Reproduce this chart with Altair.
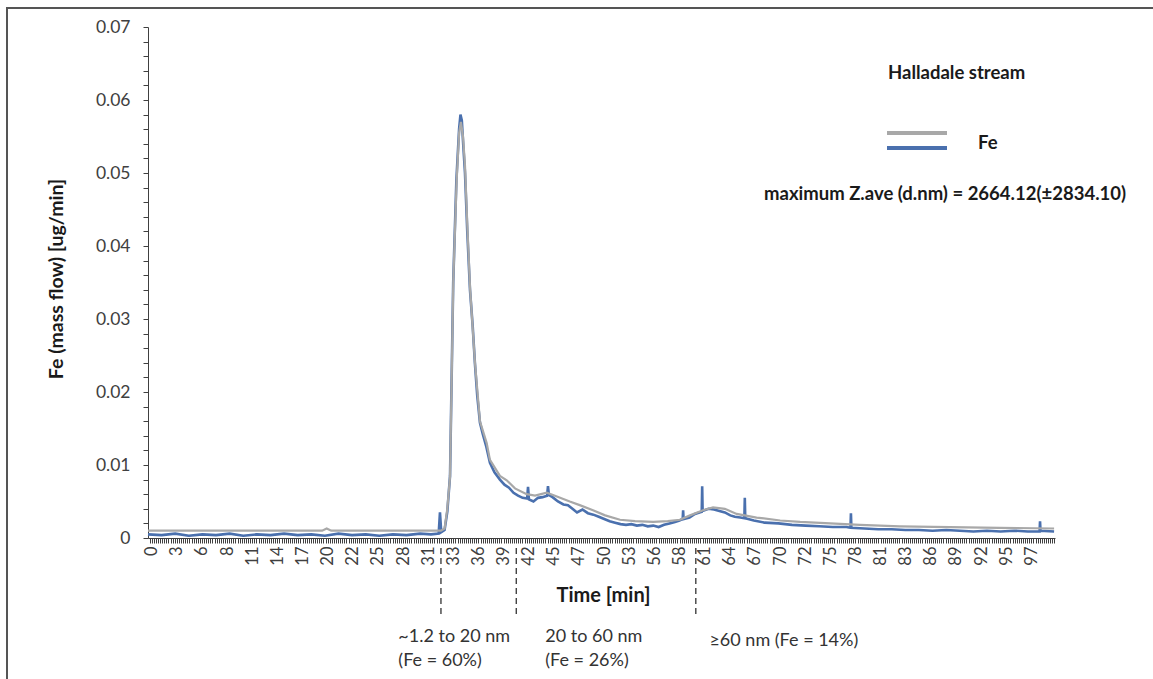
import altair as alt
import pandas as pd

# ---------------- data ----------------
gray_time = [0, 5, 10, 15, 19.2, 19.7, 20.2, 25, 30,
             32.3, 32.7, 33.0, 33.3, 33.66, 34.03, 34.3, 34.5, 34.73, 34.95,
             35.2, 35.5, 36.05, 36.6, 37.34, 37.7, 38.8, 39.55, 40.46, 41.75,
             42.67, 43.96, 44.87, 46.5, 47.6, 49.06, 50.4, 52.04, 53.7, 55.7,
             57.3, 58.65, 59.76, 61.2, 62.3, 63.6, 64.9, 67.1, 69.7, 71.9,
             75.2, 78.5, 82.9, 88.4, 93.9, 99.9]
gray_fe = [0.001, 0.001, 0.001, 0.001, 0.001, 0.0013, 0.001, 0.001, 0.001,
           0.001, 0.0013, 0.004, 0.0084, 0.0353, 0.049, 0.0555, 0.057, 0.055, 0.051,
           0.043, 0.0344, 0.024, 0.016, 0.013, 0.0107, 0.0085, 0.0079, 0.0068, 0.006,
           0.0058, 0.0062, 0.0058, 0.005, 0.0045, 0.0038, 0.0031, 0.0025, 0.0023, 0.0022,
           0.0023, 0.0025, 0.0031, 0.0038, 0.0042, 0.004, 0.0033, 0.0028, 0.0024, 0.0022,
           0.002, 0.0018, 0.0016, 0.0015, 0.0014, 0.0013]

blue_time = [0, 1.5, 3, 4.5, 6, 7.5, 9, 10.5, 12, 13.5, 15, 16.5, 18, 19.5, 21, 22.5,
             24, 25.5, 27, 28.5, 30, 31.2, 32.05, 32.19, 32.33, 32.7, 33.0, 33.3, 33.65,
             34.0, 34.3, 34.45, 34.6, 34.75, 34.95, 35.2, 35.5, 35.8, 36.05, 36.3, 36.6,
             36.9, 37.3, 37.7, 38.2, 38.8, 39.3, 39.8, 40.3, 40.8, 41.3, 41.8, 41.9, 42.0,
             42.5, 43.0, 43.5, 44.0, 44.1, 44.2, 44.6, 45.2, 45.8, 46.3, 46.8, 47.3, 47.9,
             48.5, 49.1, 49.7, 50.3, 50.9, 51.5, 52.1, 52.7, 53.3, 53.9, 54.5, 55.1, 55.7,
             56.3, 56.9, 57.5, 58.1, 58.6, 58.95, 59.0, 59.05, 59.7, 60.3, 60.8, 61.05,
             61.1, 61.15, 61.8, 62.4, 63.0, 63.6, 64.2, 64.7, 65.3, 65.75, 65.8, 65.85,
             66.8, 68.0, 69.5, 71.0, 72.5, 74.0, 75.5, 77.0, 77.45, 77.5, 77.55, 79.0,
             80.5, 82.0, 83.5, 85.0, 86.5, 88.0, 89.5, 91.0, 92.5, 94.0, 95.5, 97.0,
             98.3, 98.35, 98.4, 99.9]
blue_fe = [0.0005, 0.0004, 0.0006, 0.0003, 0.0005, 0.0004, 0.0006, 0.0003, 0.0005, 0.0004,
           0.0006, 0.0004, 0.0005, 0.0003, 0.0006, 0.0004, 0.0005, 0.0003, 0.0005, 0.0004,
           0.0006, 0.0005, 0.0006, 0.0035, 0.0008, 0.0011, 0.0036, 0.0085, 0.035,
           0.049, 0.056, 0.058, 0.0572, 0.054, 0.050, 0.042, 0.034, 0.029, 0.0238, 0.0195,
           0.0158, 0.0143, 0.0125, 0.0103, 0.009, 0.008, 0.0073, 0.0069, 0.0062, 0.0058,
           0.0055, 0.0054, 0.0070, 0.0053, 0.005, 0.0055, 0.0056, 0.0058, 0.0071, 0.0059,
           0.0056, 0.005, 0.0046, 0.0045, 0.0040, 0.0035, 0.0039, 0.0034, 0.0032, 0.0029,
           0.0026, 0.0023, 0.0021, 0.0019, 0.0018, 0.0019, 0.0017, 0.0018, 0.0016, 0.0017,
           0.0015, 0.0018, 0.0020, 0.0022, 0.0024, 0.0026, 0.0038, 0.0026, 0.0028, 0.0033,
           0.0035, 0.0036, 0.0071, 0.0037, 0.0040, 0.0039, 0.0037, 0.0035, 0.0031, 0.0029,
           0.0028, 0.0027, 0.0055, 0.0027, 0.0024, 0.0021, 0.0020, 0.0018, 0.0017, 0.0016,
           0.0015, 0.0015, 0.0014, 0.0034, 0.0014, 0.0013, 0.0012, 0.0012, 0.0011, 0.0011,
           0.0010, 0.0011, 0.0010, 0.0009, 0.0010, 0.0009, 0.0010, 0.0009, 0.0009, 0.0023,
           0.0010, 0.0009]

x_tick_labels = ["0", "3", "6", "8", "11", "14", "17", "20", "22", "25", "28", "31",
                 "33", "36", "39", "42", "45", "47", "50", "53", "56", "58", "61", "64",
                 "67", "70", "72", "75", "78", "81", "83", "86", "89", "92", "95", "97"]

boundary_time = [32.3, 40.6, 60.4]
range_label_time = [27.6, 43.8]
range_labels = ["~1.2 to 20 nm\n(Fe = 60%)", "20 to 60 nm\n(Fe = 26%)"]
big_label_time = [61.9]
big_labels = ["\u226560  nm (Fe = 14%)"]

FONT = "Lato"
W, H = 907, 511
BLUE = "#4A70AE"
GRAY = "#A8A8A8"

# axis tick layout (category-style axis)
first = 0.41
lab_step = 2.771
minor = lab_step / 12
x_ticks = [first + k * minor for k in range(-1, 432)]
arr = "[" + ",".join("'%s'" % s for s in x_tick_labels) + "]"
idx = "round((datum.value - %r) / %r)" % (first, minor)
x_label_expr = "(%s %% 12 == 0 && %s >= 0) ? %s[%s / 12] : ''" % (idx, idx, arr, idx)

y_ticks = [round(i * 0.002, 3) for i in range(36)]
y_label_expr = ("abs(datum.value * 100 - round(datum.value * 100)) < 0.0001 ? "
                "(datum.value == 0 ? '0' : format(datum.value, '.2f')) : ''")

xscale = alt.Scale(domain=[0, 100], nice=False, zero=False)
yscale = alt.Scale(domain=[0, 0.07], nice=False)

gray_df = pd.DataFrame({"t": gray_time, "fe": gray_fe})
blue_df = pd.DataFrame({"t": blue_time, "fe": blue_fe})

x_axis = alt.Axis(values=x_ticks, tickCount=2000, labelExpr=x_label_expr, labelAngle=270,
                  labelFontSize=16.5, labelColor="#404040", labelFont=FONT,
                  labelPadding=3, labelOverlap=False, labelFlush=False, labelBound=False,
                  tickSize=5, tickColor="#404040", domainColor="#404040",
                  title="Time [min]", titleFont=FONT, titleFontSize=20,
                  titleFontWeight="bold", titleColor="#1a1a1a",
                  titleX=455, titleY=57, titleBaseline="middle", titleAnchor=None,
                  grid=False)
y_axis = alt.Axis(values=y_ticks, tickCount=2000, labelExpr=y_label_expr, labelFontSize=17.5,
                  labelColor="#404040", labelFont=FONT, labelPadding=13,
                  tickSize=5, tickColor="#404040", domainColor="#404040",
                  title="Fe (mass flow) [ug/min]", titleFont=FONT, titleFontSize=19.5,
                  titleFontWeight="bold", titleColor="#1a1a1a", titleAngle=270,
                  titleX=-92, titleY=H / 2 - 4, titleBaseline="middle", titleAlign="center",
                  grid=False)

blue_line = alt.Chart(blue_df).mark_line(color=BLUE, strokeWidth=2.6).encode(
    x=alt.X("t:Q", scale=xscale, axis=x_axis),
    y=alt.Y("fe:Q", scale=yscale, axis=y_axis),
)
gray_line = alt.Chart(gray_df).mark_line(color=GRAY, strokeWidth=2.2).encode(
    x=alt.X("t:Q", scale=xscale),
    y=alt.Y("fe:Q", scale=yscale),
)

bound_df = pd.DataFrame({"t": boundary_time})
bounds = alt.Chart(bound_df).mark_rule(color="#222222", strokeWidth=1.2,
                                       strokeDash=[6, 4]).encode(
    x=alt.X("t:Q", scale=xscale),
    y=alt.value(H + 10), y2=alt.value(H + 78),
)

rl_df = pd.DataFrame({"t": range_label_time, "lab": range_labels})
range_text = alt.Chart(rl_df).mark_text(align="left", baseline="top", font=FONT,
                                        fontSize=18, color="#333333",
                                        lineBreak="\n", lineHeight=24).encode(
    x=alt.X("t:Q", scale=xscale),
    y=alt.value(H + 90),
    text="lab:N",
)
bl_df = pd.DataFrame({"t": big_label_time, "lab": big_labels})
big_text = alt.Chart(bl_df).mark_text(align="left", baseline="top", font=FONT,
                                      fontSize=18, color="#333333").encode(
    x=alt.X("t:Q", scale=xscale),
    y=alt.value(H + 94),
    text="lab:N",
)

def label(txt, x, y, size=18.5, weight="bold", align="left"):
    return alt.Chart(pd.DataFrame({"s": [txt]})).mark_text(
        align=align, baseline="middle", font=FONT, fontSize=size,
        fontWeight=weight, color="#1a1a1a").encode(
        text="s:N", x=alt.value(x), y=alt.value(y))

leg_df = pd.DataFrame({"s": ["Fe"]})
leg_gray = alt.Chart(leg_df).mark_rule(color=GRAY, strokeWidth=4).encode(
    x=alt.value(739), x2=alt.value(799), y=alt.value(106))
leg_blue = alt.Chart(leg_df).mark_rule(color=BLUE, strokeWidth=4).encode(
    x=alt.value(739), x2=alt.value(799), y=alt.value(121))

border = alt.Chart(pd.DataFrame({"s": [""]})).mark_rect(
    fillOpacity=0, stroke="#555555", strokeWidth=2).encode(
    x=alt.value(-141), x2=alt.value(1100), y=alt.value(-19), y2=alt.value(720))

chart = alt.layer(
    border, blue_line, gray_line, bounds, range_text, big_text,
    leg_gray, leg_blue,
    label("Halladale stream", 740, 46),
    label("Fe", 830, 116),
    label("maximum Z.ave (d.nm) = 2664.12(\u00b12834.10)", 616, 167),
).properties(
    width=W, height=H,
    autosize=alt.AutoSizeParams(type="none"),
    padding={"left": 148, "top": 27, "right": 98, "bottom": 141},
    background="white",
).configure_view(stroke=None)

chart.save("out.html", embed_options={"renderer": "svg", "actions": False})
